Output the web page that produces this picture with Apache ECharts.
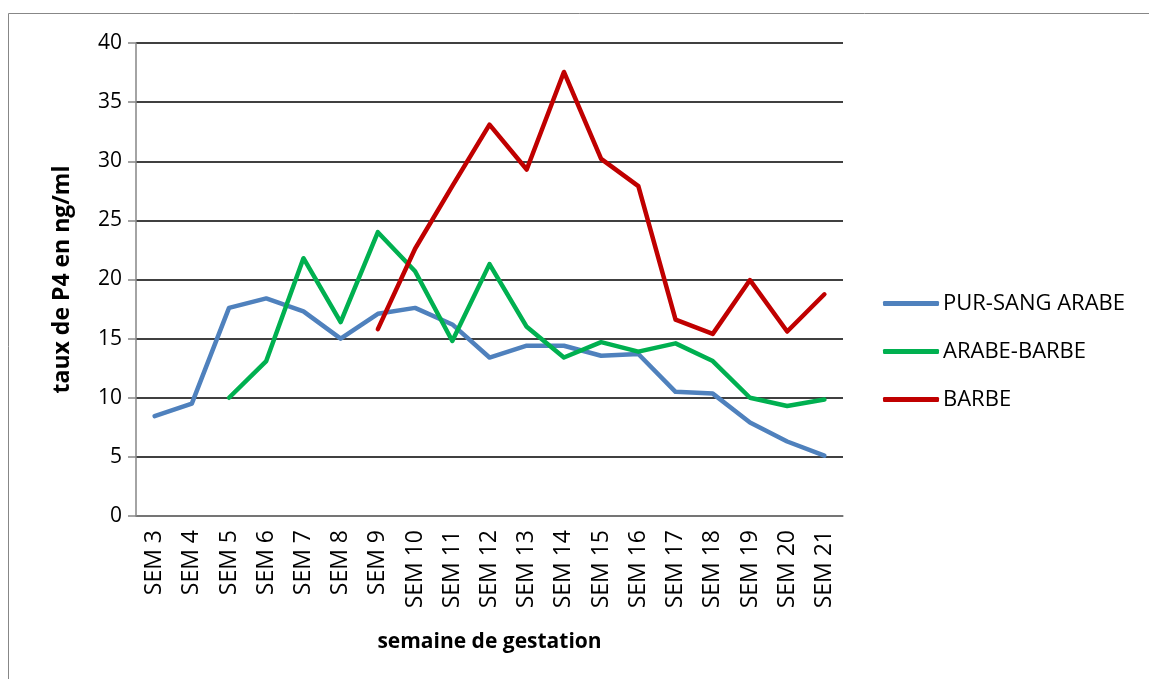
<!DOCTYPE html>
<html>
<head>
<meta charset="utf-8">
<script src="https://cdn.jsdelivr.net/npm/echarts@6/dist/echarts.min.js"></script>
<style>
  html, body { margin: 0; padding: 0; background: #fff; }
  #main { width: 1149px; height: 679px; }
</style>
</head>
<body>
<div id="main"></div>
<script>
// semaines de gestation
const semaines = ['SEM 3', 'SEM 4', 'SEM 5', 'SEM 6', 'SEM 7', 'SEM 8', 'SEM 9', 'SEM 10', 'SEM 11', 'SEM 12',
  'SEM 13', 'SEM 14', 'SEM 15', 'SEM 16', 'SEM 17', 'SEM 18', 'SEM 19', 'SEM 20', 'SEM 21'];
// taux de P4 (ng/ml) par race
const purSangArabe = [8.45, 9.5, 17.6, 18.4, 17.3, 15.0, 17.1, 17.6, 16.2, 13.4,
  14.4, 14.4, 13.55, 13.7, 10.5, 10.35, 7.9, 6.3, 5.1];
const arabeBarbe = [null, null, 10.0, 13.1, 21.8, 16.4, 24.0, 20.7, 14.8, 21.3,
  16.0, 13.4, 14.7, 13.9, 14.6, 13.1, 10.0, 9.3, 9.85];
const barbe = [null, null, null, null, null, null, 15.8, 22.6, 27.9, 33.1,
  29.3, 37.55, 30.2, 27.9, 16.6, 15.4, 19.95, 15.6, 18.75];
const yTicks = [0, 5, 10, 15, 20, 25, 30, 35, 40];

const font = 'Open Sans';
const chart = echarts.init(document.getElementById('main'));

function ligne(name, data, color) {
  return {
    name: name,
    type: 'line',
    data: data,
    showSymbol: false,
    symbol: 'none',
    connectNulls: false,
    lineStyle: { color: color, width: 4.5, cap: 'round', join: 'round' },
    itemStyle: { color: color }
  };
}

const option = {
  backgroundColor: '#fff',
  animation: false,
  // cadre du graphique
  graphic: [{
    type: 'rect',
    shape: { x: 8.5, y: 13.5, width: 1200, height: 700 },
    style: { fill: 'none', stroke: '#878787', lineWidth: 1 },
    silent: true
  }],
  grid: { left: 136, top: 43, width: 707, height: 473 },
  legend: {
    orient: 'vertical',
    left: 878,
    top: 283,
    itemWidth: 56,
    itemHeight: 5,
    itemGap: 17,
    icon: 'roundRect',
    textStyle: { fontFamily: font, fontSize: 22, color: '#000', padding: [0, 0, 0, -1], lineHeight: 31 },
    data: ['PUR-SANG ARABE', 'ARABE-BARBE', 'BARBE']
  },
  xAxis: {
    type: 'category',
    data: semaines,
    boundaryGap: true,
    name: 'semaine de gestation',
    nameLocation: 'middle',
    nameGap: 116,
    nameTextStyle: { fontFamily: font, fontSize: 21, fontWeight: 'bold', color: '#000' },
    axisLine: { lineStyle: { color: '#868686', width: 1.5 } },
    axisTick: { show: false },
    axisLabel: { rotate: 90, margin: 14, interval: 0, fontFamily: font, fontSize: 23, color: '#000' }
  },
  yAxis: {
    type: 'value',
    min: 0,
    max: 40,
    interval: 5,
    name: 'taux de P4 en ng/ml',
    nameLocation: 'middle',
    nameGap: 62,
    nameTextStyle: { fontFamily: font, fontSize: 23, fontWeight: 'bold', color: '#000' },
    axisLine: { show: true, lineStyle: { color: '#868686', width: 1.5 } },
    axisTick: { show: true, length: 8, lineStyle: { color: '#868686', width: 1.5 } },
    axisLabel: {
      margin: 14, fontFamily: font, fontSize: 21, color: '#000',
      formatter: v => yTicks.includes(v) ? String(v) : ''
    },
    splitLine: { lineStyle: { color: '#000', width: 1.5 } }
  },
  series: [
    ligne('PUR-SANG ARABE', purSangArabe, '#4F81BD'),
    ligne('ARABE-BARBE', arabeBarbe, '#00B050'),
    ligne('BARBE', barbe, '#C00000')
  ]
};

chart.setOption(option);
</script>
</body>
</html>
